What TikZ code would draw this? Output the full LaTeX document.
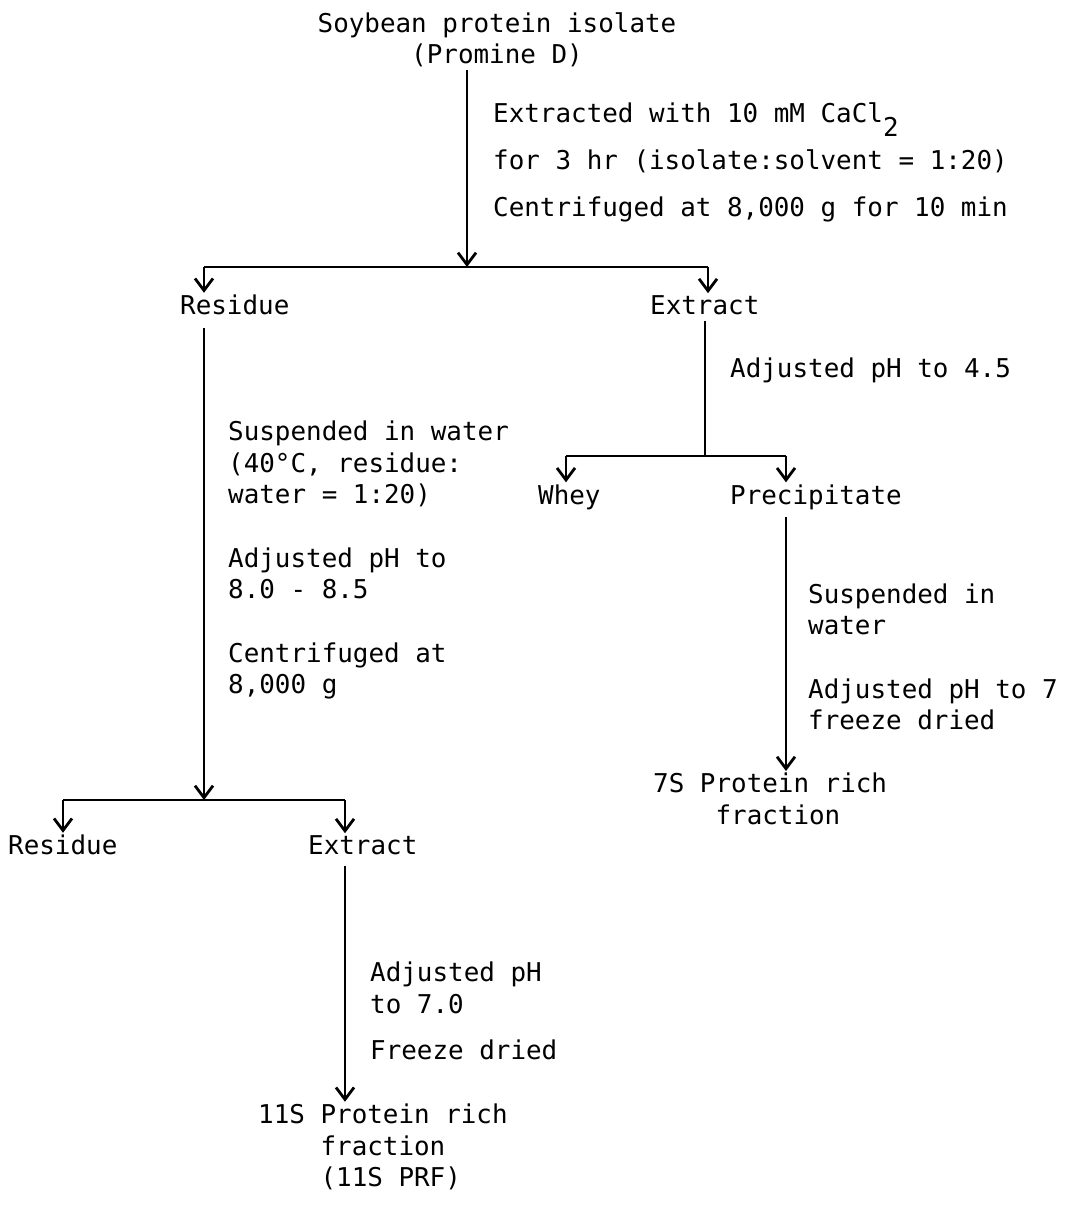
\documentclass[tikz,border=0pt]{standalone}
\usepackage{fontspec}
\newfontfamily\flowfont{DejaVu Sans Mono}
\usetikzlibrary{positioning,arrows.meta,calc}

\begin{document}
\begin{tikzpicture}[
    x=1pt, y=-1pt,
    txt/.style={font=\flowfont\fontsize{25.9}{31.5}\selectfont, inner sep=2pt, align=left, anchor=west},
    wide/.style={txt, font=\flowfont\fontsize{25.9}{47}\selectfont},
    arr/.style={-{Straight Barb[length=12pt,width=18pt]}, line width=2.8pt},
    bar/.style={line width=2.8pt}
]
\useasboundingbox (0,0) rectangle (1068,1222);

% starting material and first extraction
\node[txt, align=center, anchor=center] (soy) at (497,40) {Soybean protein isolate\\(Promine D)};
\node[wide] (cond1) at (491,162) {Extracted with 10 mM CaCl\raisebox{-14pt}{2}\\for 3 hr (isolate:solvent = 1:20)\\Centrifuged at 8,000 g for 10 min};
\coordinate (split1) at (467,267);
\coordinate (b1l) at (204,267);
\coordinate (b1r) at (708,267);
\draw[arr] (soy.south -| split1) -- (split1);
\draw[bar] (b1l) -- (b1r);
\node[txt] (res1) at (178,305) {Residue};
\node[txt] (ext1) at (648,305) {Extract};
\draw[arr] (b1l) -- (b1l |- res1.north);
\draw[arr] (b1r) -- (b1r |- ext1.north);

% residue branch
\node[txt] (cond2) at (226,560) {Suspended in water\\(40°C, residue:\\water = 1:20)\\[32pt]Adjusted pH to\\8.0 - 8.5\\[32pt]Centrifuged at\\8,000 g};
\coordinate (b2m) at (204,800);
\coordinate (b2l) at (63,800);
\coordinate (b2r) at (345,800);
\draw[arr, shorten <=11pt] (res1.south -| b2m) -- (b2m);
\draw[bar] (b2l) -- (b2r);
\node[txt] (res2) at (6,845) {Residue};
\node[txt] (ext2) at (306,845) {Extract};
\draw[arr] (b2l) -- (b2l |- res2.north);
\draw[arr] (b2r) -- (b2r |- ext2.north);
\node[txt] (cond5) at (368,1011) {Adjusted pH\\to 7.0\\[15pt]Freeze dried};
\node[txt] (frac11) at (256,1147) {11S Protein rich\\\hphantom{11S\ }fraction\\\hphantom{11S\ }(11S PRF)};
\draw[arr, shorten <=9pt] (ext2.south -| b2r) -- (b2r |- frac11.north);

% extract branch
\coordinate (b3m) at (705,456);
\coordinate (b3l) at (566,456);
\coordinate (b3r) at (786,456);
\node[txt] (cond3) at (728,370) {Adjusted pH to 4.5};
\draw[bar, shorten <=4pt] (ext1.south -| b3m) -- (b3m);
\draw[bar] (b3l) -- (b3r);
\node[txt] (whey) at (536,497) {Whey};
\node[txt] (prec) at (728,497) {Precipitate};
\draw[arr] (b3l) -- (b3l |- whey.north);
\draw[arr] (b3r) -- (b3r |- prec.north);
\node[txt] (cond4) at (806,657) {Suspended in\\water\\[32pt]Adjusted pH to 7\\freeze dried};
\node[txt] (frac7) at (651,799) {7S Protein rich\\\hphantom{7S P}fraction};
\draw[arr, shorten <=5pt] (prec.south -| b3r) -- (b3r |- frac7.north);
\end{tikzpicture}
\end{document}
